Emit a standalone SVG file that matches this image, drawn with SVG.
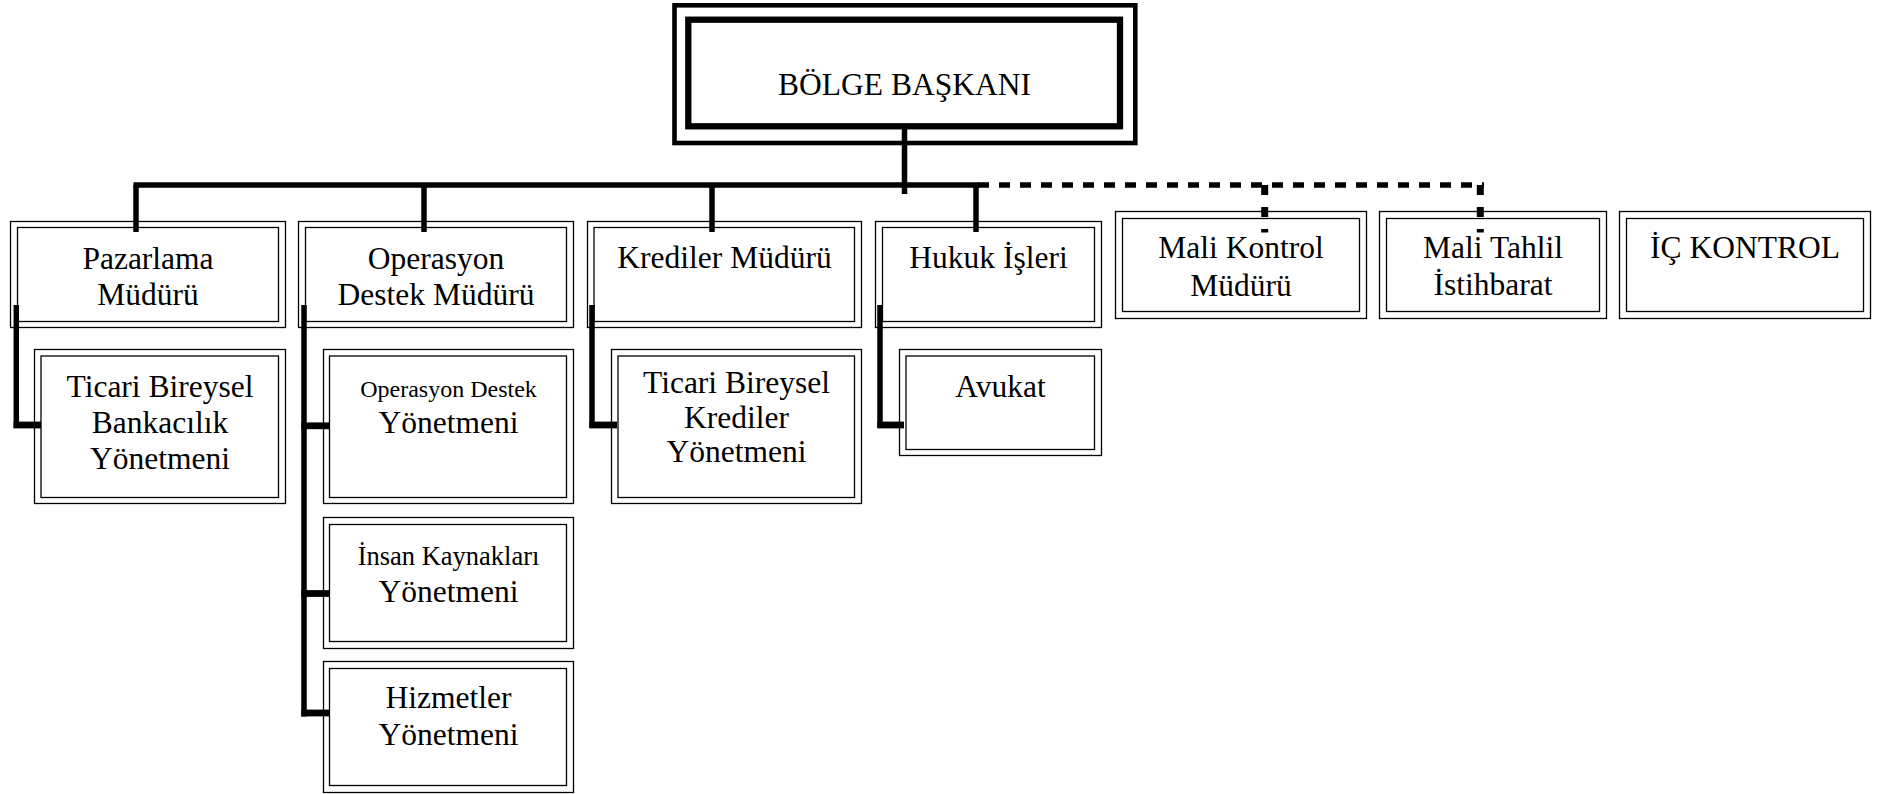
<svg xmlns="http://www.w3.org/2000/svg" width="1883" height="794" viewBox="0 0 1883 794">
  <style>
    .o, .i { fill: none; stroke: #000; stroke-width: 1.3; }
    .t { font-family: "Liberation Serif", "Times New Roman", serif; font-size: 31.5px; fill: #000; text-anchor: middle; }
    .s24 { font-size: 24px; }
    .s26 { font-size: 26.5px; }
    .ln { fill: none; stroke: #000; stroke-width: 5.5; stroke-linejoin: miter; }
    .stub { fill: none; stroke: #000; stroke-width: 6.8; }
    .dash { fill: none; stroke: #000; stroke-width: 5.5; stroke-dasharray: 11 10; }
    .vdash { fill: none; stroke: #000; stroke-width: 7; stroke-dasharray: 10 12; }
  </style>
  <rect width="1883" height="794" fill="#fff"/>

  <!-- boxes -->
  <g id="bolge-baskani">
    <rect x="674.5" y="5.3" width="460.8" height="137.7" fill="none" stroke="#000" stroke-width="4.6"/>
    <rect x="688.3" y="19.7" width="431.7" height="106.6" fill="none" stroke="#000" stroke-width="6.3"/>
    <text class="t" x="904.5" y="95">BÖLGE BAŞKANI</text>
  </g>

  <g id="pazarlama">
    <rect class="o" x="10.5" y="221.5" width="275" height="106"/>
    <rect class="i" x="17.5" y="227.5" width="261" height="94"/>
    <text class="t" x="148" y="269">Pazarlama</text>
    <text class="t" x="148" y="305">Müdürü</text>
  </g>

  <g id="operasyon-destek-muduru">
    <rect class="o" x="298.5" y="221.5" width="275" height="106"/>
    <rect class="i" x="305.5" y="227.5" width="261" height="94"/>
    <text class="t" x="436" y="269">Operasyon</text>
    <text class="t" x="436" y="305">Destek Müdürü</text>
  </g>

  <g id="krediler-muduru">
    <rect class="o" x="587.5" y="221.5" width="274" height="106"/>
    <rect class="i" x="594" y="227.5" width="260.5" height="94"/>
    <text class="t" x="724.5" y="268.3">Krediler Müdürü</text>
  </g>

  <g id="hukuk-isleri">
    <rect class="o" x="875.5" y="221.5" width="226" height="106"/>
    <rect class="i" x="882.5" y="227.5" width="212" height="94"/>
    <text class="t" x="988.5" y="268.3">Hukuk İşleri</text>
  </g>

  <g id="mali-kontrol">
    <rect class="o" x="1115.5" y="211.5" width="251" height="107"/>
    <rect class="i" x="1122.5" y="218.5" width="237" height="93"/>
    <text class="t" x="1241" y="258.3">Mali Kontrol</text>
    <text class="t" x="1241" y="296">Müdürü</text>
  </g>

  <g id="mali-tahlil">
    <rect class="o" x="1379.5" y="211.5" width="227" height="107"/>
    <rect class="i" x="1386.5" y="218.5" width="213" height="93"/>
    <text class="t" x="1493" y="258.3">Mali Tahlil</text>
    <text class="t" x="1493" y="295">İstihbarat</text>
  </g>

  <g id="ic-kontrol">
    <rect class="o" x="1619.5" y="211.5" width="251" height="107"/>
    <rect class="i" x="1626.5" y="218.5" width="237" height="93"/>
    <text class="t" x="1745" y="258.3">İÇ KONTROL</text>
  </g>

  <g id="ticari-bireysel-bankacilik">
    <rect class="o" x="34.5" y="349.5" width="251" height="154"/>
    <rect class="i" x="41" y="356" width="237.5" height="141.5"/>
    <text class="t" x="160" y="396.7">Ticari Bireysel</text>
    <text class="t" x="160" y="433.3">Bankacılık</text>
    <text class="t" x="160" y="469">Yönetmeni</text>
  </g>

  <g id="operasyon-destek-yonetmeni">
    <rect class="o" x="323.5" y="349.5" width="250" height="154"/>
    <rect class="i" x="329.5" y="356" width="237" height="141.5"/>
    <text class="t s24" x="448.5" y="396.7">Operasyon Destek</text>
    <text class="t" x="448.5" y="433.3">Yönetmeni</text>
  </g>

  <g id="insan-kaynaklari">
    <rect class="o" x="323.5" y="517.5" width="250" height="131"/>
    <rect class="i" x="329.5" y="524.5" width="237" height="117"/>
    <text class="t s26" x="448.5" y="565">İnsan Kaynakları</text>
    <text class="t" x="448.5" y="601.7">Yönetmeni</text>
  </g>

  <g id="hizmetler">
    <rect class="o" x="323.5" y="661.5" width="250" height="131"/>
    <rect class="i" x="329.5" y="668.5" width="237" height="117"/>
    <text class="t" x="448.5" y="708.3">Hizmetler</text>
    <text class="t" x="448.5" y="745">Yönetmeni</text>
  </g>

  <g id="ticari-bireysel-krediler">
    <rect class="o" x="611.5" y="349.5" width="250" height="154"/>
    <rect class="i" x="618" y="356" width="236.5" height="141.5"/>
    <text class="t" x="736.5" y="392.7">Ticari Bireysel</text>
    <text class="t" x="736.5" y="428.3">Krediler</text>
    <text class="t" x="736.5" y="461.7">Yönetmeni</text>
  </g>

  <g id="avukat">
    <rect class="o" x="899.5" y="349.5" width="202" height="106"/>
    <rect class="i" x="906" y="356" width="188.5" height="93.5"/>
    <text class="t" x="1000.5" y="396.7">Avukat</text>
  </g>

  <!-- connectors -->
  <g id="connectors">
    <!-- trunk from the head office box -->
    <path class="ln" d="M904.5,124 V194"/>
    <path class="ln" d="M133.5,185 H979"/>
    <path class="ln" d="M136,185 V232"/>
    <path class="ln" d="M424,185 V232"/>
    <path class="ln" d="M712,185 V232"/>
    <path class="ln" d="M976,185 V232"/>

    <!-- dotted staff lines -->
    <path class="dash" d="M978,185 H1484"/>
    <path class="vdash" d="M1264.7,185 V232.5"/>
    <path class="vdash" d="M1480.3,185 V232.5"/>

    <!-- second level -->
    <path class="ln" d="M16.3,305 V428"/>
    <path class="stub" d="M13.6,425 H41"/>

    <path class="ln" d="M304,305 V716.5"/>
    <path class="stub" d="M301.3,425.8 H329"/>
    <path class="stub" d="M301.3,593.5 H329"/>
    <path class="stub" d="M301.3,713 H329"/>

    <path class="ln" d="M592,305 V428"/>
    <path class="stub" d="M589.3,425 H617"/>

    <path class="ln" d="M880,305 V428"/>
    <path class="stub" d="M877.3,425 H904"/>
  </g>
</svg>
